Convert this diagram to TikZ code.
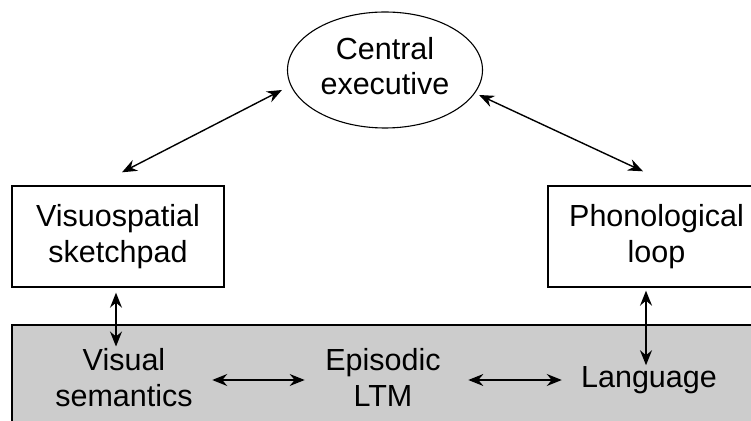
\documentclass[tikz,border=0pt]{standalone}
\usepackage{fontspec}
\setmainfont{Liberation Sans}
\usetikzlibrary{arrows.meta,shapes.geometric}
\definecolor{ltmgray}{RGB}{204,204,204}
\tikzset{
  lbl/.style={font=\fontsize{30.5}{36}\selectfont, align=center, inner sep=0pt},
  boxnode/.style={draw, line width=1.4pt, minimum width=212pt, minimum height=101pt, inner sep=0pt},
  ellnode/.style={draw, ellipse, line width=1.1pt, minimum width=195pt, minimum height=116pt, inner sep=0pt},
  arr/.style={{Stealth[length=15pt,width=12pt,inset=5pt]}-{Stealth[length=15pt,width=12pt,inset=5pt]}, line width=1.4pt}
}
\begin{document}
\begin{tikzpicture}[x=1pt,y=1pt]
\useasboundingbox (0,0) rectangle (751,420);
\clip (0,0) rectangle (751,420);
% long-term memory band
\path[fill=ltmgray, draw=black, line width=1.4pt] (12,95) rectangle (790,-20);
% nodes
\node[ellnode, lbl] (ce) at (385,350) {\raisebox{4pt}{\begin{tabular}{@{}c@{}}Central\\[-1.5pt]executive\end{tabular}}};
\node[boxnode, lbl] (vs) at (118,183.5) {Visuospatial\\sketchpad};
\node[boxnode, lbl, minimum width=217pt] (pl) at (656.5,183.5) {Phonological\\loop};
\node[lbl] (vsem) at (124,42.9) {Visual\\semantics};
\node[lbl] (epi) at (383,42.9) {Episodic\\LTM};
\node[lbl] (lang) at (649,39.7) {Language};
% connectors
\draw[arr] ([shift={(4pt,13pt)}]vs.north) -- ([shift={(-5pt,-20pt)}]ce.west);
\draw[arr] ([shift={(-4pt,-25pt)}]ce.east) -- ([shift={(-13.5pt,14pt)}]pl.north);
\draw[arr] ([shift={(-2pt,-5pt)}]vs.south) -- ([shift={(-8pt,1.2pt)}]vsem.north);
\draw[arr] ([shift={(-10.5pt,-3pt)}]pl.south) -- ([shift={(-3pt,1.2pt)}]lang.north);
\draw[arr] ([shift={(19.4pt,-2.9pt)}]vsem.east) -- ([shift={(-20.5pt,-2.9pt)}]epi.west);
\draw[arr] ([shift={(27.5pt,-2.9pt)}]epi.east) -- ([shift={(-19.2pt,0.3pt)}]lang.west);
\end{tikzpicture}
\end{document}
